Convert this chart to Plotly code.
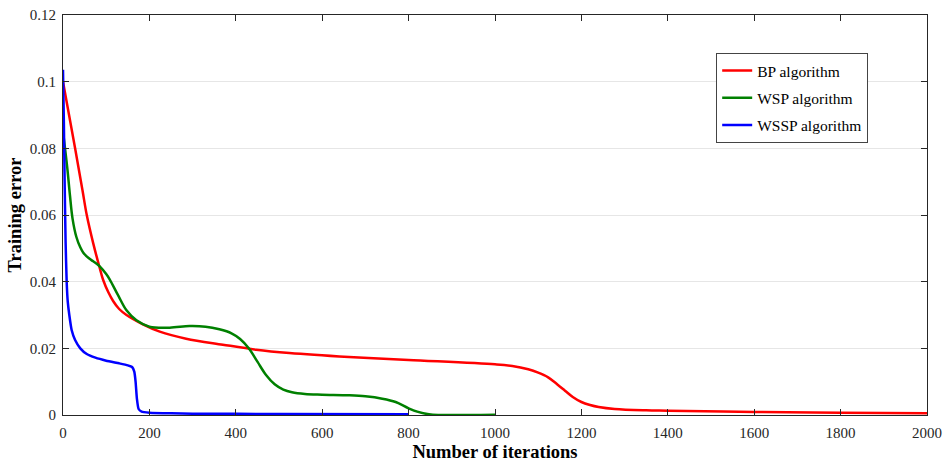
import plotly.graph_objects as go

bp_x = [0, 28, 45, 55, 70, 85, 93, 105, 116, 130, 147, 185, 224, 285, 370, 447, 524, 662, 800, 1000, 1040, 1077, 1100, 1123, 1145, 1162, 1180, 1200, 1220, 1240, 1277, 1350, 1400, 1600, 1800, 2000]
bp_y = [0.100, 0.080, 0.0675, 0.060, 0.0515, 0.0441, 0.0405, 0.0368, 0.0342, 0.0318, 0.0300, 0.0272, 0.025, 0.0229, 0.0211, 0.0196, 0.0186, 0.0174, 0.0165, 0.0152, 0.0147, 0.0137, 0.0127, 0.0113, 0.0091, 0.0073, 0.0054, 0.0039, 0.0030, 0.0024, 0.0018, 0.0014, 0.0013, 0.0009, 0.0007, 0.0005]

wsp_x = [0, 10, 16, 22, 31, 40, 47, 60, 70, 85, 100, 108, 128, 147, 170, 200, 247, 293, 330, 362, 390, 410, 430, 450, 470, 490, 510, 530, 560, 600, 662, 700, 739, 770, 800, 820, 847, 870, 1000]
wsp_y = [0.085, 0.074, 0.066, 0.059, 0.0534, 0.0503, 0.0487, 0.0470, 0.0461, 0.0446, 0.0423, 0.0407, 0.0358, 0.0314, 0.0284, 0.0265, 0.0262, 0.0267, 0.0265, 0.0257, 0.0245, 0.0228, 0.0200, 0.0160, 0.0120, 0.0092, 0.0076, 0.0068, 0.0063, 0.0061, 0.0059, 0.0056, 0.0049, 0.0039, 0.002, 0.001, 0.0002, 0.0, 0.0001]

wssp_x = [0, 2, 4, 6, 8.5, 11, 14.6, 20, 28, 40, 55, 75, 100, 130, 150, 160, 165, 168, 171, 175, 182, 200, 250, 300, 500, 800]
wssp_y = [0.1036, 0.088, 0.068, 0.052, 0.040, 0.034, 0.030, 0.0255, 0.0225, 0.020, 0.0183, 0.0172, 0.0163, 0.0155, 0.0149, 0.0144, 0.013, 0.010, 0.005, 0.0018, 0.0010, 0.0007, 0.0005, 0.0004, 0.0003, 0.0002]

font_family = "Liberation Serif"

fig = go.Figure()
fig.add_trace(go.Scatter(x=bp_x, y=bp_y, mode="lines", name="BP algorithm", legendgroup="a",
                         line=dict(color="#ff0000", width=2.5, shape="spline", smoothing=1.0, simplify=False)))
fig.add_trace(go.Scatter(x=wsp_x, y=wsp_y, mode="lines", name="WSP algorithm", legendgroup="b",
                         line=dict(color="#008000", width=2.5, shape="spline", smoothing=1.0, simplify=False)))
fig.add_trace(go.Scatter(x=wssp_x, y=wssp_y, mode="lines", name="WSSP algorithm", legendgroup="c",
                         line=dict(color="#0000ff", width=2.5, shape="spline", smoothing=0.5, simplify=False)))

axis_common = dict(
    showline=True, linecolor="#262626", linewidth=1, mirror="ticks",
    ticks="inside", ticklen=6, tickcolor="#262626",
    tickfont=dict(family=font_family, size=15, color="#262626"),
    zeroline=False,
)

fig.update_layout(
    width=949, height=468,
    margin=dict(l=63, r=19, t=7, b=53),
    paper_bgcolor="white", plot_bgcolor="white",
    font=dict(family=font_family, color="#262626"),
    xaxis=dict(range=[0, 2000], tickvals=list(range(0, 2001, 200)), showgrid=False,
               ticklabelstandoff=4,
               title=dict(text="<b>Number of iterations</b>", font=dict(family=font_family, size=18.5, color="#000"), standoff=5),
               **axis_common),
    yaxis=dict(range=[0, 0.12], tickvals=[0, 0.02, 0.04, 0.06, 0.08, 0.1, 0.12],
               ticktext=["0", "0.02", "0.04", "0.06", "0.08", "0.1", "0.12"],
               showgrid=True, gridcolor="#e6e6e6", gridwidth=1,
               ticklabelstandoff=3,
               title=dict(text="<b>Training error</b>", font=dict(family=font_family, size=18.5, color="#000"), standoff=3),
               **axis_common),
    legend=dict(x=0.756, y=0.905, xanchor="left", yanchor="top",
                bgcolor="white", bordercolor="#444", borderwidth=1,
                font=dict(family=font_family, size=15.5, color="#000"),
                tracegroupgap=4, itemwidth=30, entrywidth=118, entrywidthmode="pixels"),
    showlegend=True,
)

fig.write_html("out.html")
